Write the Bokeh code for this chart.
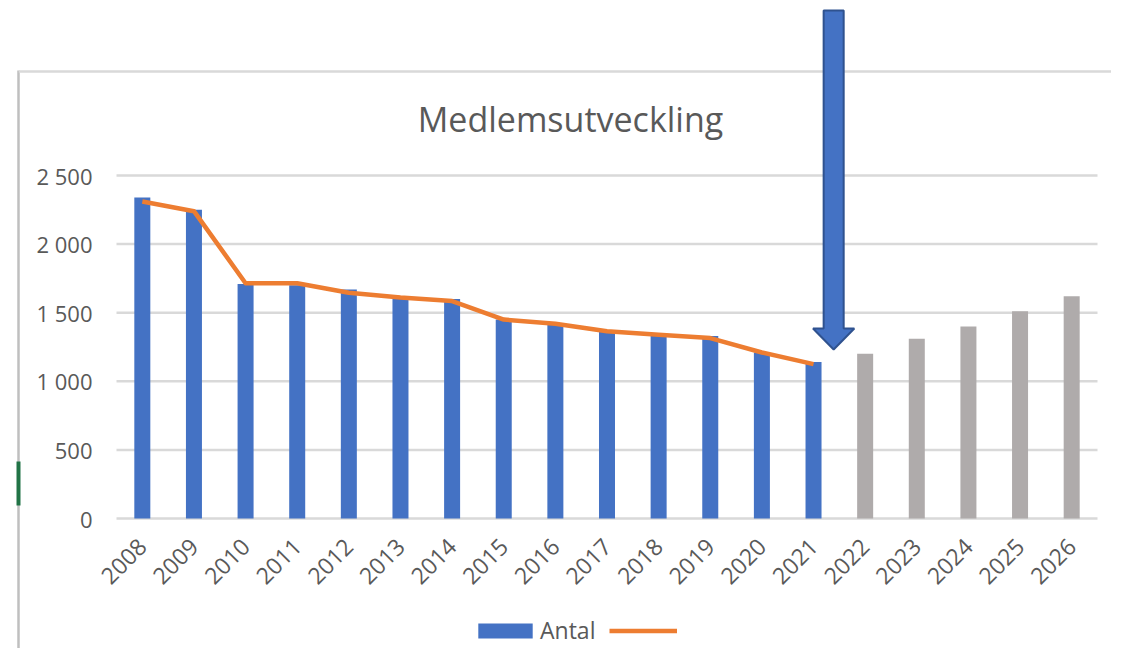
import math
from bokeh.plotting import figure
from bokeh.models import (Range1d, FixedTicker, Legend, LegendItem, Label, Span)
from bokeh.embed import file_html
from bokeh.resources import INLINE

# ---------------- data ----------------
years = ["2008", "2009", "2010", "2011", "2012", "2013", "2014", "2015", "2016",
         "2017", "2018", "2019", "2020", "2021", "2022", "2023", "2024", "2025", "2026"]
antal_years = ["2008", "2009", "2010", "2011", "2012", "2013", "2014", "2015", "2016",
               "2017", "2018", "2019", "2020", "2021"]
antal = [2340, 2250, 1710, 1700, 1670, 1620, 1600, 1450, 1425, 1360, 1340, 1330, 1210, 1140]
prognos_years = ["2022", "2023", "2024", "2025", "2026"]
prognos = [1200, 1310, 1400, 1510, 1620]
trend = [2310, 2240, 1715, 1715, 1645, 1610, 1585, 1450, 1420, 1365, 1340, 1315, 1210, 1125]
y_ticks = [0, 500, 1000, 1500, 2000, 2500]
title_text = "Medlemsutveckling"
legend_labels = ["Antal", ""]

# ---------------- styles / layout ----------------
BLUE = "#4472C4"
GREY_BAR = "#AFABAB"
ORANGE = "#ED7D31"
GRID = "#D9D9D9"
BORDER = "#BFBFBF"
TEXT = "#595959"
FONT = "Open Sans"

W, H = 1111, 648          # canvas
FRAME_LEFT = 18           # chart-area left border
PLOT_LEFT, PLOT_RIGHT = 116, 1097
BASE_Y = 518              # pixel row of value 0
PX_PER_UNIT = 0.1372      # pixels per member

n = len(years)
idx = {y: i for i, y in enumerate(years)}
px_per_cat = (PLOT_RIGHT - PLOT_LEFT) / n
first_center = PLOT_LEFT + px_per_cat / 2
x_start = (FRAME_LEFT - first_center) / px_per_cat
x_end = (W - first_center) / px_per_cat
y_start = -(H - BASE_Y) / PX_PER_UNIT
y_end = BASE_Y / PX_PER_UNIT


def y_at(px):
    return (BASE_Y - px) / PX_PER_UNIT


p = figure(width=W, height=H, x_range=Range1d(x_start, x_end), y_range=Range1d(y_start, y_end),
           output_backend="svg", toolbar_location=None,
           min_border_left=FRAME_LEFT, min_border_right=0, min_border_top=0, min_border_bottom=0)
p.outline_line_color = None
p.background_fill_color = "white"
p.border_fill_color = "white"
p.xgrid.visible = False
p.ygrid.visible = False

# y axis: its line is the chart-area left border, labels sit inside
p.yaxis.ticker = FixedTicker(ticks=y_ticks)
p.yaxis.major_label_overrides = {t: f"{t:,}".replace(",", " ") for t in y_ticks}
p.yaxis.bounds = (y_start, y_at(70))
p.yaxis.axis_line_color = BORDER
p.yaxis.axis_line_width = 2.5
p.yaxis.major_tick_line_color = None
p.yaxis.minor_tick_line_color = None
p.yaxis.major_tick_out = 0
p.yaxis.major_tick_in = 0
p.yaxis.major_label_standoff = -(92 - FRAME_LEFT)
p.yaxis.major_label_text_font = FONT
p.yaxis.major_label_text_font_size = "22px"
p.yaxis.major_label_text_color = TEXT

# x axis: category labels
p.xaxis.ticker = FixedTicker(ticks=list(range(n)))
p.xaxis.major_label_overrides = {i: y for i, y in enumerate(years)}
p.xaxis.axis_line_color = None
p.xaxis.major_tick_line_color = None
p.xaxis.minor_tick_line_color = None
p.xaxis.major_tick_out = 0
p.xaxis.major_tick_in = 0
p.xaxis.major_label_orientation = math.pi / 4
p.xaxis.major_label_standoff = -(H - 542)
p.xaxis.major_label_text_font = FONT
p.xaxis.major_label_text_font_size = "23px"
p.xaxis.major_label_text_color = TEXT

# gridlines across the plot area only
p.segment(x0=-0.5, x1=n - 0.5, y0=y_ticks, y1=y_ticks, line_color=GRID, line_width=2.5)

# chart-area top border
p.add_layout(Span(location=y_at(71), dimension="width", line_color=GRID, line_width=2.5))
# small green selection mark on the left border
p.segment(x0=[x_start], x1=[x_start], y0=[y_at(461)], y1=[y_at(505)],
          line_color="#217346", line_width=4, level="overlay")

# bars and line
r_antal = p.vbar(x=[idx[y] for y in antal_years], top=antal, width=0.31,
                 fill_color=BLUE, line_color=None)
r_prog = p.vbar(x=[idx[y] for y in prognos_years], top=prognos, width=0.31,
                fill_color=GREY_BAR, line_color=None)
r_line = p.line(x=[idx[y] for y in antal_years], y=trend, line_color=ORANGE,
                line_width=4.5, line_join="round")

# arrow callout pointing at 2021
ax = idx["2021"] + 0.39
sh, hh = 0.194, 0.40
y_top, y_head, y_tip = y_at(10), y_at(328), y_at(349)
p.patch(x=[ax - sh, ax + sh, ax + sh, ax + hh, ax, ax - hh, ax - sh],
        y=[y_top, y_top, y_head, y_head, y_tip, y_head, y_head],
        fill_color=BLUE, line_color="#2F528F", line_width=2, level="overlay")

# title
p.add_layout(Label(x=(570 - first_center) / px_per_cat, y=y_at(118), text=title_text,
                   text_align="center", text_baseline="middle", text_font=FONT,
                   text_font_size="34px", text_color=TEXT))

legend = Legend(items=[LegendItem(label=legend_labels[0], renderers=[r_antal]),
                       LegendItem(label=legend_labels[1], renderers=[r_line])],
                orientation="horizontal", location=(471 - FRAME_LEFT, 2),
                glyph_width=68, glyph_height=19, label_standoff=1, spacing=14,
                padding=0, margin=0, border_line_color=None, background_fill_alpha=0,
                label_text_font=FONT, label_text_font_size="23px", label_text_color=TEXT)
p.add_layout(legend, "center")

open("out.html", "w").write(file_html(p, INLINE))
